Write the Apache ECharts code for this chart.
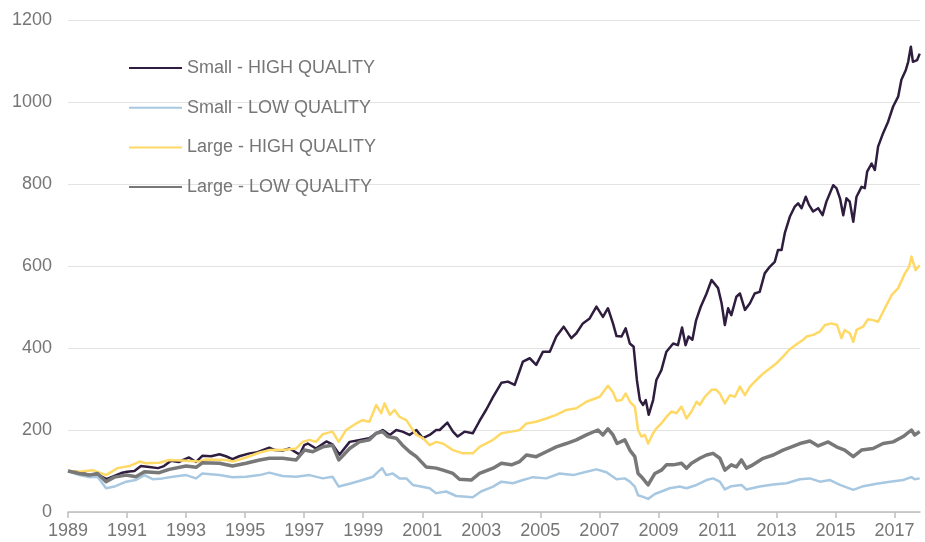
<!DOCTYPE html>
<html>
<head>
<meta charset="utf-8">
<script src="https://cdn.jsdelivr.net/npm/echarts@6/dist/echarts.min.js"></script>
<style>
  html, body {margin: 0; padding: 0; background: #fff;}
  #chart {width: 925px; height: 542px;}
</style>
</head>
<body>
<div id="chart"></div>
<script>
  // series names (legend order)
  var names = ["Small - HIGH QUALITY", "Small - LOW QUALITY", "Large - HIGH QUALITY", "Large - LOW QUALITY"];
  var yTicks = [0, 200, 400, 600, 800, 1000, 1200];

  // Small - HIGH QUALITY
  var shT = [1989.0,1989.25,1989.5,1989.75,1990.0,1990.3,1990.57,1990.8,1991.0,1991.25,1991.47,1991.75,1992.05,1992.25,1992.49,1992.75,1993.1,1993.34,1993.55,1993.85,1994.13,1994.35,1994.57,1994.8,1995.15,1995.37,1995.82,1996.0,1996.27,1996.5,1996.85,1997.0,1997.12,1997.4,1997.75,1997.96,1998.2,1998.54,1998.98,1999.2,1999.44,1999.66,1999.9,2000.12,2000.33,2000.57,2000.8,2001.02,2001.25,2001.47,2001.59,2001.85,2002.04,2002.2,2002.43,2002.71,2002.94,2003.17,2003.4,2003.68,2003.9,2004.13,2004.41,2004.64,2004.86,2005.09,2005.32,2005.54,2005.79,2006.05,2006.22,2006.44,2006.67,2006.9,2007.12,2007.29,2007.46,2007.58,2007.75,2007.89,2008.03,2008.16,2008.27,2008.37,2008.48,2008.57,2008.67,2008.82,2008.93,2009.1,2009.27,2009.5,2009.66,2009.8,2009.92,2010.02,2010.15,2010.27,2010.43,2010.63,2010.8,2011.02,2011.14,2011.25,2011.36,2011.47,2011.64,2011.76,2011.93,2012.1,2012.26,2012.43,2012.6,2012.77,2012.94,2013.05,2013.17,2013.28,2013.45,2013.62,2013.73,2013.85,2013.99,2014.1,2014.24,2014.41,2014.56,2014.69,2014.92,2015.03,2015.15,2015.26,2015.37,2015.48,2015.6,2015.71,2015.88,2015.99,2016.07,2016.22,2016.33,2016.44,2016.61,2016.78,2016.95,2017.12,2017.23,2017.38,2017.46,2017.55,2017.62,2017.76,2017.85];
  var shV = [100,98,95,90,92,80,88,95,98,100,112,110,107,112,125,122,133,122,137,136,141,136,129,136,143,145,157,151,150,155,140,163,167,155,172,165,140,171,177,180,192,200,188,200,196,188,200,180,188,200,200,218,196,184,196,192,222,250,281,315,318,310,367,375,359,391,391,428,452,424,436,460,472,501,476,497,460,429,428,448,411,403,322,273,261,273,237,273,322,346,391,411,407,450,407,428,420,466,500,533,566,546,509,456,497,480,525,533,493,509,533,537,582,598,610,639,639,680,720,745,753,741,769,749,733,741,724,757,797,790,765,724,765,757,708,769,793,790,830,850,834,891,924,952,989,1013,1054,1078,1098,1135,1098,1102,1118];

  // Small - LOW QUALITY
  var slT = [1989.0,1989.38,1989.72,1990.0,1990.29,1990.57,1990.97,1991.3,1991.59,1991.87,1992.2,1992.55,1993.0,1993.34,1993.55,1994.13,1994.57,1995.03,1995.49,1995.82,1996.27,1996.73,1997.18,1997.63,1997.96,1998.17,1998.54,1998.98,1999.33,1999.5,1999.64,1999.78,2000.0,2000.23,2000.46,2000.68,2000.91,2001.25,2001.47,2001.81,2002.15,2002.49,2002.71,2002.99,2003.4,2003.68,2004.07,2004.41,2004.75,2005.2,2005.65,2006.11,2006.56,2006.9,2007.24,2007.58,2007.86,2008.03,2008.2,2008.31,2008.48,2008.65,2008.88,2009.1,2009.38,2009.72,2009.95,2010.29,2010.63,2010.85,2011.08,2011.25,2011.47,2011.81,2011.98,2012.43,2012.89,2013.34,2013.79,2014.13,2014.47,2014.81,2015.15,2015.6,2015.94,2016.39,2016.84,2017.29,2017.57,2017.68,2017.85];
  var slV = [100,90,85,86,58,62,74,78,90,80,82,86,90,82,94,90,85,86,90,96,88,86,90,82,86,62,69,78,86,98,107,90,94,82,82,66,63,58,46,50,39,37,36,50,62,74,70,78,85,82,94,90,98,104,97,80,82,74,62,41,37,32,44,50,58,62,58,66,78,82,74,55,63,66,55,62,67,70,80,82,74,78,66,54,63,69,74,78,85,80,82];

  // Large - HIGH QUALITY
  var lhT = [1989.0,1989.38,1989.83,1990.0,1990.29,1990.68,1991.08,1991.42,1991.64,1992.09,1992.43,1993.0,1993.45,1993.68,1994.36,1994.58,1995.03,1995.49,1995.82,1996.27,1996.73,1996.95,1997.18,1997.4,1997.63,1997.96,1998.17,1998.42,1998.76,1998.98,1999.21,1999.44,1999.61,1999.72,1999.9,2000.06,2000.23,2000.46,2000.57,2000.8,2001.02,2001.25,2001.47,2001.7,2002.04,2002.38,2002.71,2002.94,2003.4,2003.68,2004.02,2004.3,2004.53,2004.86,2005.2,2005.54,2005.88,2006.22,2006.56,2007.01,2007.29,2007.46,2007.58,2007.75,2007.89,2008.05,2008.2,2008.31,2008.42,2008.54,2008.65,2008.82,2008.93,2009.1,2009.27,2009.44,2009.61,2009.78,2009.95,2010.12,2010.29,2010.4,2010.57,2010.8,2010.96,2011.08,2011.25,2011.42,2011.59,2011.76,2011.93,2012.1,2012.32,2012.55,2012.77,2013.0,2013.22,2013.45,2013.68,2013.9,2014.02,2014.24,2014.47,2014.64,2014.86,2015.05,2015.2,2015.31,2015.48,2015.6,2015.71,2015.93,2016.1,2016.27,2016.44,2016.67,2016.9,2017.12,2017.35,2017.49,2017.57,2017.71,2017.85];
  var lhV = [100,98,102,98,90,107,112,123,119,120,127,125,123,128,127,123,133,145,151,151,155,171,176,171,190,196,171,200,216,224,220,261,241,265,237,249,232,224,212,188,180,163,171,167,151,143,143,159,176,192,196,200,216,220,228,237,249,253,269,281,308,292,271,273,289,267,257,200,184,188,167,192,204,216,232,245,241,257,228,245,269,261,281,298,298,289,265,285,281,306,285,306,322,338,350,363,379,397,409,420,428,432,440,456,460,456,424,444,436,415,444,452,470,468,464,497,529,546,582,598,623,590,602];

  // Large - LOW QUALITY
  var llT = [1989.0,1989.38,1989.72,1990.0,1990.29,1990.57,1990.97,1991.3,1991.59,1992.09,1992.43,1993.0,1993.34,1993.55,1994.13,1994.57,1995.03,1995.49,1995.82,1996.27,1996.73,1997.01,1997.29,1997.63,1997.96,1998.17,1998.54,1998.87,1999.21,1999.44,1999.66,1999.83,2000.12,2000.33,2000.57,2000.8,2001.13,2001.47,2001.7,2002.04,2002.26,2002.66,2002.94,2003.4,2003.68,2004.02,2004.3,2004.53,2004.86,2005.2,2005.54,2005.88,2006.22,2006.56,2006.95,2007.12,2007.29,2007.46,2007.6,2007.86,2008.03,2008.2,2008.31,2008.42,2008.65,2008.88,2009.1,2009.27,2009.5,2009.78,2009.95,2010.12,2010.4,2010.63,2010.85,2011.08,2011.25,2011.47,2011.64,2011.81,2011.98,2012.2,2012.55,2012.89,2013.22,2013.51,2013.79,2014.13,2014.41,2014.75,2015.03,2015.31,2015.6,2015.88,2016.27,2016.61,2016.95,2017.29,2017.57,2017.68,2017.85];
  var llV = [100,94,90,94,74,85,90,86,98,96,104,112,109,120,119,112,119,127,131,131,127,151,147,159,163,127,155,171,176,192,196,184,180,163,147,135,110,107,102,94,80,78,94,107,119,115,123,139,135,147,159,167,176,188,200,188,203,188,167,176,151,135,94,86,66,94,102,115,115,119,107,119,131,139,143,131,102,115,110,127,107,115,131,139,151,159,167,173,161,171,159,151,135,151,155,167,171,184,200,188,196];

  var colors = ["#2e1d3f", "#a7c8e0", "#ffd966", "#787878"],
    widths = [2.5, 2.5, 2.5, 3.5],
    textColor = "#767676",
    font = "'Liberation Sans', Arial, sans-serif"
  ;

  function zip(t, v){
    return t.map(function(x, i){ return [x, v[i]]; });
  }

  function getOptions(){
    var all = [[shT, shV], [slT, slV], [lhT, lhV], [llT, llV]];
    var series = all.map(function(d, i){
      return {
        name: names[i],
        type: 'line',
        data: zip(d[0], d[1]),
        showSymbol: false,
        symbol: 'none',
        animation: false,
        lineStyle: {color: colors[i], width: widths[i], join: 'round'},
        itemStyle: {color: colors[i]}
      };
    });
    return {
      animation: false,
      textStyle: {fontFamily: font},
      grid: {left: 68, right: 5, top: 20, bottom: 30, containLabel: false, outerBoundsMode: 'none'},
      legend: {
        orient: 'vertical',
        left: 128,
        top: 59,
        padding: 0,
        itemWidth: 53,
        itemHeight: 14,
        itemGap: 21.7,
        itemStyle: {opacity: 0},
        textStyle: {fontSize: 18, color: textColor, fontFamily: font},
        data: names
      },
      xAxis: {
        type: 'value',
        min: 1989,
        max: 2017.86,
        interval: 2,
        axisLine: {show: true, lineStyle: {color: '#bfbfbf', width: 1.5}},
        axisTick: {show: true, length: 6, lineStyle: {color: '#bfbfbf', width: 1.5}},
        splitLine: {show: false},
        axisLabel: {
          fontSize: 18, color: textColor, margin: 10, showMaxLabel: false,
          formatter: function(v){ return v % 1 === 0 ? String(v) : ''; }
        }
      },
      yAxis: {
        type: 'value',
        min: yTicks[0],
        max: yTicks[yTicks.length - 1],
        interval: 200,
        axisLine: {show: false},
        axisTick: {show: false},
        splitLine: {lineStyle: {color: '#e3e3e3', width: 1}},
        axisLabel: {fontSize: 18, color: textColor, margin: 16, formatter: function(v){ return String(v); }}
      },
      series: series
    };
  }

  var chartDom = echarts.init(document.getElementById('chart'));
  chartDom.setOption(getOptions());
</script>
</body>
</html>
